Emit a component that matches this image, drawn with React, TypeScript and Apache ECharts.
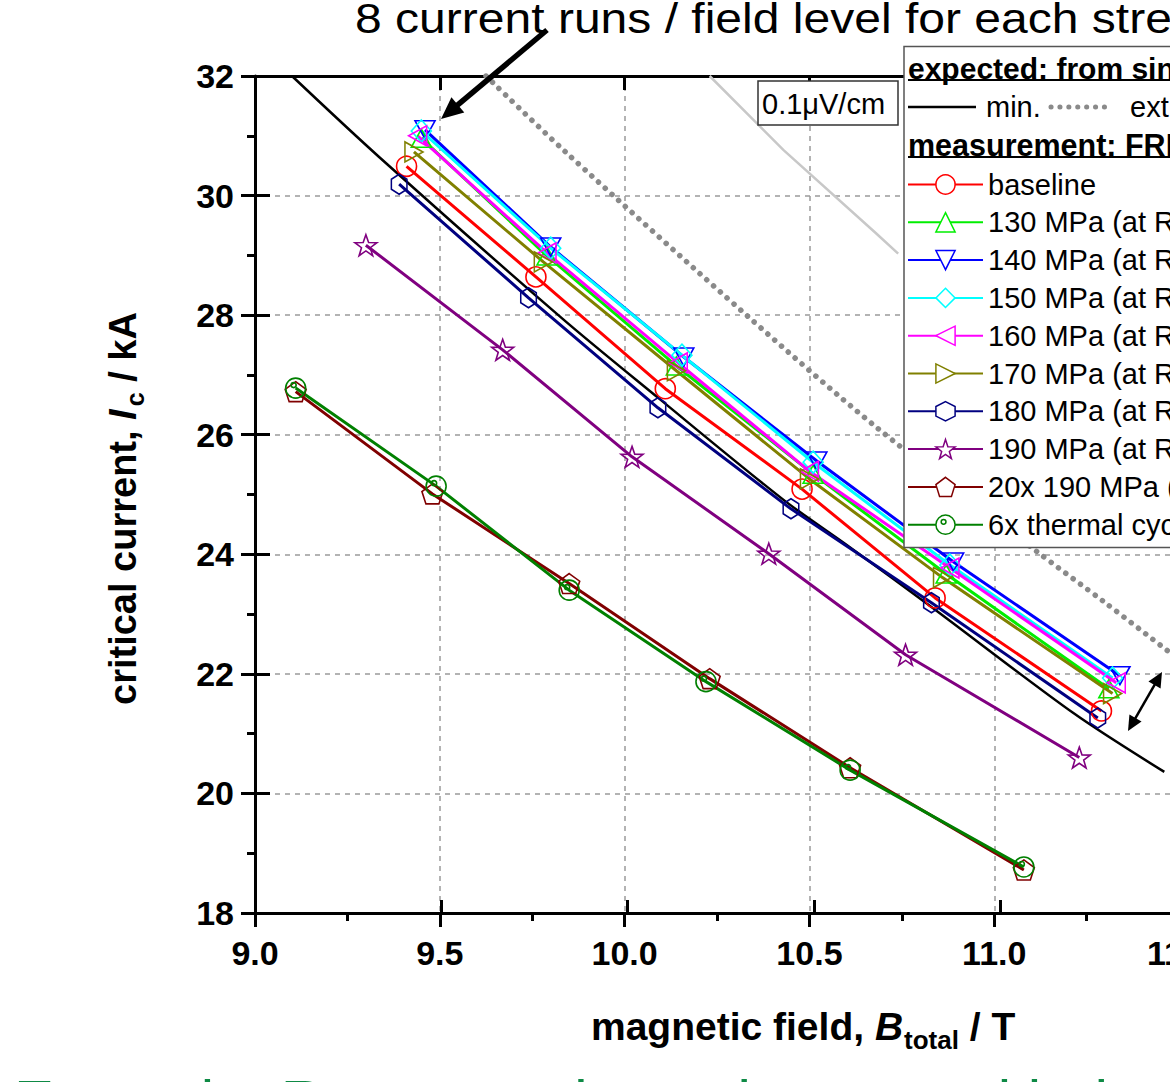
import React, { useEffect, useRef } from 'react';
import * as echarts from 'echarts';

const FONT = '"Liberation Sans", Arial, Helvetica, sans-serif';

// ---- axes ----
const X_MIN = 9.0;
const X_MAX = 12.0;
const X_STEP = 0.5;
const Y_MIN = 18;
const Y_MAX = 32;
const Y_STEP = 2;

// ---- expected curves (from single strand) ----
const B_expMin = [9.10, 9.335, 9.83, 10.09, 10.43, 10.6, 10.83, 11.215, 11.46];
const I_expMin = [32.0, 30.65, 27.95, 26.62, 24.91, 24.16, 23.12, 21.34, 20.36];
const B_expExt = [9.625, 9.84, 10.335, 10.68, 11.11, 11.30, 11.47];
const I_expExt = [32.0, 30.73, 27.97, 26.13, 24.07, 23.19, 22.38];
const B_01uV = [10.23, 10.43, 10.68, 10.74];
const I_01uV = [32.0, 30.76, 29.37, 29.03];

// ---- measurements (FRESCA) ----
const B_baseline = [9.41, 9.76, 10.11, 10.48, 10.84, 11.29];
const I_baseline = [30.49, 28.64, 26.77, 25.09, 23.27, 21.38];
const B_130 = [9.45, 9.79, 10.14, 10.51, 10.87, 11.31];
const I_130 = [30.96, 28.99, 27.15, 25.34, 23.67, 21.75];
const B_140 = [9.46, 9.80, 10.16, 10.52, 10.89, 11.34];
const I_140 = [31.10, 29.14, 27.30, 25.56, 23.87, 21.97];
const B_150 = [9.45, 9.80, 10.155, 10.51, 10.88, 11.32];
const I_150 = [31.08, 29.12, 27.33, 25.54, 23.82, 21.93];
const B_160 = [9.44, 9.79, 10.145, 10.50, 10.88, 11.33];
const I_160 = [31.00, 29.04, 27.20, 25.39, 23.77, 21.85];
const B_170 = [9.43, 9.78, 10.14, 10.50, 10.86, 11.32];
const I_170 = [30.73, 28.89, 27.07, 25.26, 23.61, 21.67];
const B_180 = [9.39, 9.74, 10.09, 10.45, 10.83, 11.28];
const I_180 = [30.19, 28.29, 26.45, 24.76, 23.19, 21.26];
const B_190 = [9.30, 9.67, 10.02, 10.39, 10.76, 11.23];
const I_190 = [29.17, 27.42, 25.63, 24.01, 22.32, 20.60];
const B_20x190 = [9.11, 9.48, 9.85, 10.23, 10.61, 11.08];
const I_20x190 = [26.72, 25.01, 23.51, 21.92, 20.43, 18.72];
const B_thermal = [9.11, 9.49, 9.85, 10.22, 10.61, 11.08];
const I_thermal = [26.78, 25.14, 23.40, 21.87, 20.39, 18.77];

const seriesNames = [
  'baseline',
  '130 MPa (at RT)',
  '140 MPa (at RT)',
  '150 MPa (at RT)',
  '160 MPa (at RT)',
  '170 MPa (at RT)',
  '180 MPa (at RT)',
  '190 MPa (at RT)',
  '20x 190 MPa (at RT)',
  '6x thermal cycle',
];

const HEX = 'path://M0,-10L8.66,-5L8.66,5L0,10L-8.66,5L-8.66,-5Z';
const STAR =
  'path://M0,-10L2.351,-3.236L9.511,-3.09L3.804,1.236L5.878,8.09L0,4L-5.878,8.09L-3.804,1.236L-9.511,-3.09L-2.351,-3.236Z';
const PENT = 'path://M0,-10L9.511,-3.09L5.878,8.09L-5.878,8.09L-9.511,-3.09Z';
const THERM =
  'path://M10,0A10,10,0,1,1,-10,0A10,10,0,1,1,10,0ZM0.5,-3A2.5,2.5,0,1,1,-4.5,-3A2.5,2.5,0,1,1,0.5,-3Z';

const measSeries = [
  { name: seriesNames[0], B: B_baseline, I: I_baseline, color: '#ff0000', symbol: 'circle', size: 20, rotate: 0 },
  { name: seriesNames[1], B: B_130, I: I_130, color: '#00ee00', symbol: 'triangle', size: [20, 18], rotate: 0 },
  { name: seriesNames[2], B: B_140, I: I_140, color: '#0000ff', symbol: 'triangle', size: [20, 18], rotate: 180 },
  { name: seriesNames[3], B: B_150, I: I_150, color: '#00ffff', symbol: 'diamond', size: [20, 22], rotate: 0 },
  { name: seriesNames[4], B: B_160, I: I_160, color: '#ff00ff', symbol: 'triangle', size: [20, 18], rotate: 90 },
  { name: seriesNames[5], B: B_170, I: I_170, color: '#808000', symbol: 'triangle', size: [20, 18], rotate: -90 },
  { name: seriesNames[6], B: B_180, I: I_180, color: '#000080', symbol: HEX, size: [18, 20], rotate: 0 },
  { name: seriesNames[7], B: B_190, I: I_190, color: '#800080', symbol: STAR, size: 22, rotate: 0 },
  { name: seriesNames[8], B: B_20x190, I: I_20x190, color: '#800000', symbol: PENT, size: 21, rotate: 0 },
  { name: seriesNames[9], B: B_thermal, I: I_thermal, color: '#008000', symbol: THERM, size: 20, rotate: 0 },
];

const pairs = (B: number[], I: number[]) => B.map((b, i) => [b, I[i]]);

function txt(text: string, x: number, y: number, o: any = {}) {
  const align = o.align || 'left';
  const va = o.va || 'middle';
  return {
    type: 'text',
    x,
    y,
    z: o.z ?? 12,
    scaleX: o.scaleX ?? 1,
    silent: true,
    style: {
      text,
      fontSize: o.size || 30,
      fontWeight: o.weight || 'normal',
      fontStyle: o.fstyle || 'normal',
      fontFamily: FONT,
      fill: o.color || '#000',
      align,
      verticalAlign: va,
      textAlign: align,
      textVerticalAlign: va,
    },
  };
}

function arrow(x1: number, y1: number, x2: number, y2: number, w: number, hl: number, hw: number, both: boolean) {
  const dx = x2 - x1;
  const dy = y2 - y1;
  const L = Math.hypot(dx, dy);
  const ux = dx / L;
  const uy = dy / L;
  const nx = -uy;
  const ny = ux;
  const els: any[] = [];
  const head = (tx: number, ty: number, sx: number, sy: number) => {
    const bx = tx - sx * hl;
    const by = ty - sy * hl;
    els.push({
      type: 'polygon',
      z: 15,
      silent: true,
      shape: { points: [[tx, ty], [bx + nx * hw, by + ny * hw], [bx - nx * hw, by - ny * hw]] },
      style: { fill: '#000' },
    });
  };
  const sx = both ? x1 + ux * hl * 0.8 : x1;
  const sy = both ? y1 + uy * hl * 0.8 : y1;
  const ex = x2 - ux * hl * 0.8;
  const ey = y2 - uy * hl * 0.8;
  els.push({
    type: 'line',
    z: 15,
    silent: true,
    shape: { x1: sx, y1: sy, x2: ex, y2: ey },
    style: { stroke: '#000', lineWidth: w },
  });
  head(x2, y2, ux, uy);
  if (both) head(x1, y1, -ux, -uy);
  return els;
}

export default function App() {
  const ref = useRef<HTMLDivElement>(null);

  useEffect(() => {
    document.body.style.margin = '0';
    document.body.style.overflow = 'hidden';
    const chart = echarts.init(ref.current!, null, { renderer: 'svg' });

    const cv = document.createElement('canvas').getContext('2d')!;
    const measure = (s: string, font: string) => {
      cv.font = font;
      return cv.measureText(s).width;
    };
    const fam = '"Liberation Sans"';

    const axisCommon = {
      type: 'value',
      min: X_MIN,
      max: X_MAX,
      interval: X_STEP,
    };
    const yCommon = {
      type: 'value',
      min: Y_MIN,
      max: Y_MAX,
      interval: Y_STEP,
    };
    const blackLine = { color: '#000', width: 3 };

    const series: any[] = [
      {
        name: 'min.',
        type: 'line',
        xAxisIndex: 0,
        yAxisIndex: 0,
        data: pairs(B_expMin, I_expMin),
        showSymbol: false,
        symbol: 'none',
        smooth: 0.3,
        color: '#000',
        lineStyle: { color: '#000', width: 2.5 },
        silent: true,
        z: 3,
      },
      {
        name: 'extr.',
        type: 'line',
        xAxisIndex: 0,
        yAxisIndex: 0,
        data: pairs(B_expExt, I_expExt),
        showSymbol: false,
        symbol: 'none',
        smooth: 0.3,
        color: '#808080',
        lineStyle: { color: '#8a8a8a', width: 5.5, type: [0.1, 9], cap: 'round' },
        silent: true,
        z: 3,
      },
      {
        name: '0.1uV/cm',
        type: 'line',
        xAxisIndex: 0,
        yAxisIndex: 0,
        data: pairs(B_01uV, I_01uV),
        showSymbol: false,
        symbol: 'none',
        color: '#c8c8c8',
        lineStyle: { color: '#c8c8c8', width: 2.5 },
        silent: true,
        z: 3,
      },
      ...measSeries.map((s) => ({
        name: s.name,
        type: 'line',
        xAxisIndex: 0,
        yAxisIndex: 0,
        data: pairs(s.B, s.I),
        symbol: s.symbol,
        symbolSize: s.size,
        symbolRotate: s.rotate,
        symbolKeepAspect: true,
        showAllSymbol: true,
        color: s.color,
        lineStyle: { color: s.color, width: 3 },
        itemStyle: { color: 'transparent', borderColor: s.color, borderWidth: 1.6 },
        emphasis: { disabled: true },
        silent: true,
        z: 3,
      })),
    ];

    const g: any[] = [];
    // title text + arrow
    const titlePart = '8 current runs / field level for each stre';
    const tw = measure(titlePart, `42px ${fam}`);
    g.push(txt('8 current runs / field level for each stress level', 355, 18.5, { size: 42, scaleX: 817 / tw }));
    g.push(...arrow(547, 30, 441, 119, 5.5, 22, 10, false));

    // 0.1uV/cm label
    g.push({
      type: 'rect',
      z: 10,
      silent: true,
      shape: { x: 758, y: 81, width: 140, height: 44 },
      style: { fill: '#fff', stroke: '#333', lineWidth: 1.5 },
    });
    g.push(txt('0.1\u03bcV/cm', 762, 104, { size: 29, z: 11 }));

    // legend box + headers
    g.push({
      type: 'rect',
      z: 10,
      silent: true,
      shape: { x: 904, y: 46.5, width: 400, height: 501 },
      style: { fill: '#fff', stroke: '#555', lineWidth: 1.5 },
    });
    g.push(txt('expected: from single strand', 908, 68, { size: 30, weight: 'bold' }));
    g.push({ type: 'line', z: 12, silent: true, shape: { x1: 908, y1: 80, x2: 1300, y2: 80 }, style: { stroke: '#000', lineWidth: 2 } });
    g.push({ type: 'line', z: 12, silent: true, shape: { x1: 908, y1: 107, x2: 976, y2: 107 }, style: { stroke: '#000', lineWidth: 2.5 } });
    g.push(txt('min.', 986, 107, { size: 29 }));
    g.push({
      type: 'line',
      z: 12,
      silent: true,
      shape: { x1: 1051, y1: 107, x2: 1113, y2: 107 },
      style: { stroke: '#8a8a8a', lineWidth: 5, lineDash: [0.1, 8.8], lineCap: 'round' },
    });
    g.push(txt('extr.', 1130, 107, { size: 29 }));
    g.push(txt('measurement: FRESCA', 908, 145, { size: 30.5, weight: 'bold' }));
    g.push({ type: 'line', z: 12, silent: true, shape: { x1: 908, y1: 157, x2: 1300, y2: 157 }, style: { stroke: '#000', lineWidth: 2 } });

    // double arrow
    g.push(...arrow(1128, 731, 1162, 672, 2.5, 15, 7, true));

    // x axis name
    const xs = 39;
    const xMid = 1040 - 0.35 * xs;
    const xSubSize = 26;
    let cx = 591;
    const p1 = 'magnetic field, ';
    g.push(txt(p1, cx, xMid, { size: xs, weight: 'bold' }));
    cx += measure(p1, `bold ${xs}px ${fam}`);
    g.push(txt('B', cx, xMid, { size: xs, weight: 'bold', fstyle: 'italic' }));
    cx += measure('B', `italic bold ${xs}px ${fam}`) + 1;
    g.push(txt('total', cx, 1049 - 0.35 * xSubSize, { size: xSubSize, weight: 'bold' }));
    cx += measure('total', `bold ${xSubSize}px ${fam}`);
    g.push(txt(' / T', cx, xMid, { size: xs, weight: 'bold' }));

    // y axis name (rotated)
    const ys = 38;
    const ySub = 25;
    const kids: any[] = [];
    let lx = 0;
    const q1 = 'critical current, ';
    kids.push(txt(q1, lx, -0.35 * ys, { size: ys, weight: 'bold' }));
    lx += measure(q1, `bold ${ys}px ${fam}`);
    kids.push(txt('I', lx, -0.35 * ys, { size: ys, weight: 'bold', fstyle: 'italic' }));
    lx += measure('I', `italic bold ${ys}px ${fam}`) + 3;
    kids.push(txt('c', lx, 8 - 0.35 * ySub, { size: ySub, weight: 'bold' }));
    lx += measure('c', `bold ${ySub}px ${fam}`);
    kids.push(txt(' / kA', lx, -0.35 * ys, { size: ys, weight: 'bold' }));
    g.push({ type: 'group', x: 136, y: 705, rotation: Math.PI / 2, children: kids });

    // slide text at bottom (clipped by the page edge)
    g.push(txt('Example: Ramp results and expected behaviour', 14, 1101, { size: 60, color: '#0e8a45' }));

    const option: any = {
      animation: false,
      backgroundColor: '#fff',
      grid: [
        { left: 255, top: 76, width: 1117.5, height: 837 },
        { left: 255, top: 76, width: 1117.5, height: 837 },
      ],
      xAxis: [
        {
          ...axisCommon,
          gridIndex: 0,
          position: 'bottom',
          axisLine: { show: true, onZero: false, lineStyle: blackLine },
          axisTick: { show: true, inside: false, length: 14, lineStyle: blackLine },
          minorTick: { show: true, splitNumber: 2, length: 8, lineStyle: blackLine },
          axisLabel: {
            show: true,
            margin: 23,
            color: '#000',
            fontSize: 34,
            fontWeight: 'bold',
            fontFamily: FONT,
            formatter: (v: number) => v.toFixed(1),
          },
          splitLine: { show: true, lineStyle: { color: '#9a9a9a', width: 1.5, type: [5, 5] } },
        },
        {
          ...axisCommon,
          gridIndex: 0,
          position: 'top',
          axisLine: { show: true, onZero: false, lineStyle: blackLine },
          axisTick: { show: true, inside: true, length: 14, lineStyle: blackLine },
          axisLabel: { show: false },
          splitLine: { show: false },
        },
        {
          ...axisCommon,
          gridIndex: 1,
          position: 'bottom',
          axisLine: { show: false, onZero: false },
          axisTick: { show: true, inside: true, length: 13, lineStyle: blackLine },
          axisLabel: { show: false },
          splitLine: { show: false },
        },
      ],
      yAxis: [
        {
          ...yCommon,
          gridIndex: 0,
          position: 'left',
          axisLine: { show: true, onZero: false, lineStyle: blackLine },
          axisTick: { show: true, inside: false, length: 14, lineStyle: blackLine },
          minorTick: { show: true, splitNumber: 2, length: 8, lineStyle: blackLine },
          axisLabel: {
            show: true,
            margin: 21,
            color: '#000',
            fontSize: 34,
            fontWeight: 'bold',
            fontFamily: FONT,
          },
          splitLine: { show: true, lineStyle: { color: '#9a9a9a', width: 1.5, type: [5, 5] } },
        },
        {
          ...yCommon,
          gridIndex: 1,
          position: 'left',
          axisLine: { show: false, onZero: false },
          axisTick: { show: true, inside: true, length: 15, lineStyle: blackLine },
          axisLabel: { show: false },
          splitLine: { show: false },
        },
      ],
      legend: {
        show: true,
        data: seriesNames,
        orient: 'vertical',
        left: 907,
        top: 170,
        padding: 0,
        itemWidth: 75,
        itemHeight: 24,
        itemGap: 8.8,
        selectedMode: false,
        z: 20,
        textStyle: { fontSize: 29, fontFamily: FONT, color: '#000' },
        itemStyle: { color: '#fff', borderWidth: 1.5 },
      },
      graphic: { elements: g },
      series,
    };

    chart.setOption(option);
    return () => chart.dispose();
  }, []);

  return (
    <div style={{ position: 'fixed', left: 0, top: 0, width: 1170, height: 1082, overflow: 'hidden', background: '#fff' }}>
      <div ref={ref} style={{ width: 1400, height: 1082 }} />
    </div>
  );
}
